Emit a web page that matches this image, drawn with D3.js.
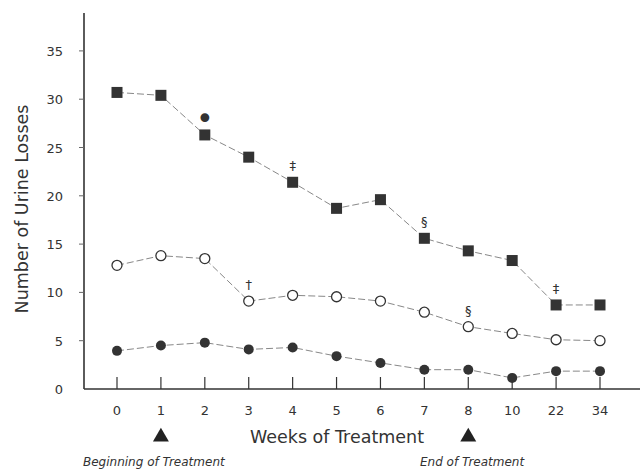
<!DOCTYPE html>
<html>
<head>
<meta charset="utf-8">
<script src="https://cdn.jsdelivr.net/npm/d3@7"></script>
<style>
  body { margin: 0; background: #fff; }
  text { font-family: "DejaVu Sans", sans-serif; fill: #333; }
</style>
</head>
<body>
<svg id="chart"></svg>
<script>
// Weeks of treatment (categorical axis)
const weeks = ["0", "1", "2", "3", "4", "5", "6", "7", "8", "10", "22", "34"];

// Three groups
const squareValues = [30.7, 30.4, 26.3, 24.0, 21.4, 18.7, 19.6, 15.6, 14.3, 13.3, 8.7, 8.7];
const openValues = [12.8, 13.8, 13.5, 9.1, 9.7, 9.55, 9.1, 7.95, 6.45, 5.75, 5.1, 5.0];
const dotValues = [3.95, 4.5, 4.8, 4.1, 4.3, 3.4, 2.7, 2.0, 2.0, 1.15, 1.85, 1.85];

const yTicks = [0, 5, 10, 15, 20, 25, 30, 35];

// significance marks: [week, series, symbol]
const marks = [
    ["2", "square", "•"],
    ["4", "square", "‡"],
    ["7", "square", "§"],
    ["22", "square", "‡"],
    ["3", "open", "†"],
    ["8", "open", "§"]
];

const treatmentMarks = [
    { week: "1", label: "Beginning of Treatment" },
    { week: "8", label: "End of Treatment" }
];

const width = 640, height = 469;
const margin = { top: 13, right: 0, bottom: 80, left: 84 };

const svg = d3.select("#chart")
    .attr("width", width)
    .attr("height", height);

const x = d3.scalePoint()
    .domain(weeks)
    .range([117, 600]);

const y = d3.scaleLinear()
    .domain([0, 36])
    .range([389, 389 - 36 * 9.66]);

// axes lines
svg.append("line")
    .attr("x1", margin.left).attr("x2", margin.left)
    .attr("y1", margin.top).attr("y2", y(0))
    .attr("stroke", "#333").attr("stroke-width", 1.6);

svg.append("line")
    .attr("x1", margin.left).attr("x2", width)
    .attr("y1", y(0)).attr("y2", y(0))
    .attr("stroke", "#333").attr("stroke-width", 1.6);

// y ticks
const yAxis = svg.append("g");
yAxis.selectAll("line")
    .data(yTicks.filter(d => d > 0))
    .enter().append("line")
    .attr("x1", margin.left - 5).attr("x2", margin.left)
    .attr("y1", d => y(d)).attr("y2", d => y(d))
    .attr("stroke", "#666").attr("stroke-width", 1);
yAxis.selectAll("text")
    .data(yTicks)
    .enter().append("text")
    .attr("x", 63)
    .attr("y", d => y(d) + 5)
    .attr("text-anchor", "end")
    .style("font-size", "13px")
    .text(d => d);

// x ticks (pointing up into the plot)
const xAxis = svg.append("g");
xAxis.selectAll("line")
    .data(weeks)
    .enter().append("line")
    .attr("x1", d => x(d)).attr("x2", d => x(d))
    .attr("y1", y(0) - 12).attr("y2", y(0))
    .attr("stroke", "#333").attr("stroke-width", 1.2);
xAxis.selectAll("text")
    .data(weeks)
    .enter().append("text")
    .attr("x", d => x(d))
    .attr("y", 415)
    .attr("text-anchor", "middle")
    .style("font-size", "13px")
    .text(d => d);

// series
const line = d3.line()
    .x((d, i) => x(weeks[i]))
    .y(d => y(d));

[squareValues, openValues, dotValues].forEach(vals => {
    svg.append("path")
        .datum(vals)
        .attr("d", line)
        .attr("fill", "none")
        .attr("stroke", "#888")
        .attr("stroke-width", 1)
        .attr("stroke-dasharray", "7,3");
});

svg.selectAll(".sq")
    .data(squareValues)
    .enter().append("rect")
    .attr("class", "sq")
    .attr("x", (d, i) => x(weeks[i]) - 5.5)
    .attr("y", d => y(d) - 5.5)
    .attr("width", 11).attr("height", 11)
    .attr("fill", "#333");

svg.selectAll(".oc")
    .data(openValues)
    .enter().append("circle")
    .attr("class", "oc")
    .attr("cx", (d, i) => x(weeks[i]))
    .attr("cy", d => y(d))
    .attr("r", 5)
    .attr("fill", "#fff")
    .attr("stroke", "#333")
    .attr("stroke-width", 1.3);

svg.selectAll(".fc")
    .data(dotValues)
    .enter().append("circle")
    .attr("class", "fc")
    .attr("cx", (d, i) => x(weeks[i]))
    .attr("cy", d => y(d))
    .attr("r", 5)
    .attr("fill", "#333");

// significance symbols
const seriesByName = { square: squareValues, open: openValues };
svg.selectAll(".sig")
    .data(marks)
    .enter().append("text")
    .attr("class", "sig")
    .attr("x", d => x(d[0]))
    .attr("y", d => y(seriesByName[d[1]][weeks.indexOf(d[0])]) - (d[2] === "•" ? 6 : 12))
    .attr("text-anchor", "middle")
    .style("font-size", d => d[2] === "•" ? "30px" : "13px")
    .text(d => d[2]);

// x-axis title
svg.append("text")
    .attr("x", 337)
    .attr("y", 443)
    .attr("text-anchor", "middle")
    .style("font-size", "17.5px")
    .text("Weeks of Treatment");

// y-axis title
svg.append("text")
    .attr("transform", "rotate(-90)")
    .attr("x", -209)
    .attr("y", 28)
    .attr("text-anchor", "middle")
    .style("font-size", "17.5px")
    .text("Number of Urine Losses");

// treatment triangles and labels
svg.selectAll(".tri")
    .data(treatmentMarks)
    .enter().append("path")
    .attr("class", "tri")
    .attr("transform", d => `translate(${x(d.week)},437)`)
    .attr("d", d3.symbol(d3.symbolTriangle, 110))
    .attr("fill", "#222");

svg.selectAll(".tlabel")
    .data(treatmentMarks)
    .enter().append("text")
    .attr("class", "tlabel")
    .attr("x", (d, i) => i === 0 ? 83 : 420)
    .attr("y", 466)
    .style("font-size", "12px")
    .style("font-style", "italic")
    .text(d => d.label);
</script>
</body>
</html>
